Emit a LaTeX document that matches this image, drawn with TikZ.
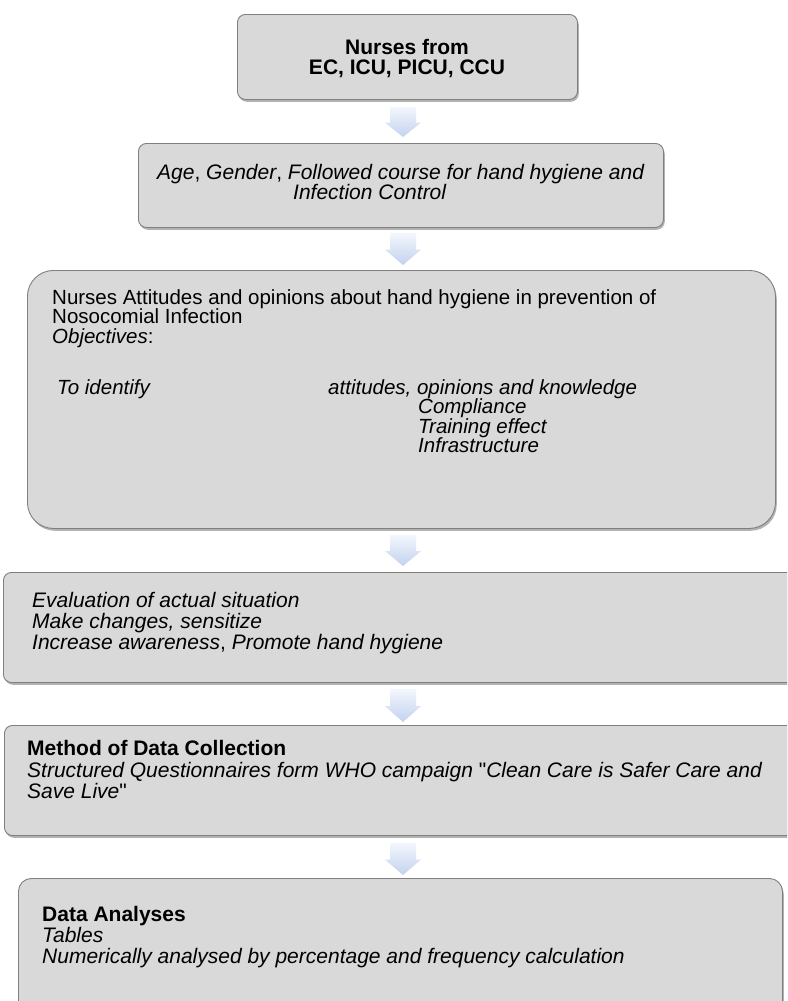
\documentclass[tikz,border=0pt]{standalone}
\usepackage{fontspec}
\setmainfont{Liberation Sans}
\usetikzlibrary{shadows,calc}
\definecolor{boxfill}{HTML}{D9D9D9}
\definecolor{boxline}{HTML}{7F7F7F}
\definecolor{arrtop}{HTML}{F4F7FD}
\definecolor{arrbot}{HTML}{C2D2EE}
\tikzset{
  flowbox/.style={draw=boxline, line width=0.9pt, fill=boxfill,
    rounded corners=#1, anchor=north west, inner sep=0pt,
    drop shadow={shadow xshift=1.3pt, shadow yshift=-2.3pt, opacity=0.4, fill=black!75}},
  flowbox/.default=8pt,
  txtl/.style={anchor=base west, inner sep=0pt, font=\fontsize{21}{21}\selectfont},
  txts/.style={anchor=base west, inner sep=0pt, font=\fontsize{20.5}{20}\selectfont},
  txtc/.style={anchor=base, inner sep=0pt, font=\fontsize{21}{21}\selectfont\bfseries},
}
\newcommand\flowarrow[2]{%
  \shade[top color=arrtop, bottom color=arrbot] let \p1=(#1), \p2=(#2), \n1={\y1-\y2} in
    (\x1-13pt,\y1) -- (\x1+13pt,\y1) -- (\x1+13pt,\y2+0.48*\n1) -- (\x1+18pt,\y2+0.48*\n1)
    -- (\x1,\y2) -- (\x1-18pt,\y2+0.48*\n1) -- (\x1-13pt,\y2+0.48*\n1) -- cycle;}
\begin{document}
\begin{tikzpicture}[x=1pt,y=-1pt]
\useasboundingbox (0,0) rectangle (787,1001);
\clip (0,0) rectangle (787,1001);
\fill[white] (0,0) rectangle (787,1001);
\coordinate (ax) at (403,0);
% boxes
\node[flowbox, minimum width=340pt, minimum height=85pt] (b1) at (237,14) {};
\node[flowbox, minimum width=525pt, minimum height=84pt] (b2) at (138,143) {};
\node[flowbox=26pt, minimum width=748pt, minimum height=258pt] (b3) at (27,270) {};
\node[flowbox, minimum width=820pt, minimum height=110pt] (b4) at (3,572) {};
\node[flowbox, minimum width=820pt, minimum height=110pt] (b5) at (4,725) {};
\node[flowbox=13pt, minimum width=764pt, minimum height=160pt] (b6) at (18,878) {};
% connectors
\flowarrow{$(b1.south -| ax)+(0,7)$}{$(b2.north -| ax)+(0,-6)$}
\flowarrow{$(b2.south -| ax)+(0,5)$}{$(b3.north -| ax)+(0,-5)$}
\flowarrow{$(b3.south -| ax)+(0,6)$}{$(b4.north -| ax)+(0,-6)$}
\flowarrow{$(b4.south -| ax)+(0,6)$}{$(b5.north -| ax)+(0,-3)$}
\flowarrow{$(b5.south -| ax)+(0,7)$}{$(b6.north -| ax)+(0,-3)$}
% box 1
\node[txtc] (t1a) at (407,54) {Nurses from};
\node[txtc] (t1b) at (407,74) {EC, ICU, PICU, CCU};
% box 2
\node[txtl] (t2a) at (157,179) {\textit{Age}, \textit{Gender}, \textit{Followed course for hand hygiene and}};
\node[txtl] (t2b) at (293,199) {\textit{Infection Control}};
% box 3
\node[txts] (t3a) at (52,304) {Nurses Attitudes and opinions about hand hygiene in prevention of};
\node[txts] (t3b) at (52,323.5) {Nosocomial Infection};
\node[txts] (t3c) at (52,343) {\textit{Objectives}:};
\node[txts] (t3d) at (57,394) {\textit{To identify}};
\node[txts] (t3e) at (328,394) {\textit{attitudes, opinions and knowledge}};
\node[txts] (t3f) at (418,413.5) {\textit{Compliance}};
\node[txts] (t3g) at (418,433) {\textit{Training effect}};
\node[txts] (t3h) at (418,452.5) {\textit{Infrastructure}};
% box 4
\node[txtl] (t4a) at (32,607) {\textit{Evaluation of actual situation}};
\node[txtl] (t4b) at (32,628) {\textit{Make changes, sensitize}};
\node[txtl] (t4c) at (32,649) {\textit{Increase awareness}, \textit{Promote hand hygiene}};
% box 5
\node[txtl] (t5a) at (27,755) {\textbf{Method of Data Collection}};
\node[txtl] (t5b) at (27,777) {\textit{Structured Questionnaires form WHO campaign }\textquotedbl\textit{Clean Care is Safer Care and}};
\node[txtl] (t5c) at (27,798) {\textit{Save Live}\textquotedbl};
% box 6
\node[txtl] (t6a) at (42,921) {\textbf{Data Analyses}};
\node[txtl] (t6b) at (42,942) {\textit{Tables}};
\node[txtl] (t6c) at (42,963) {\textit{Numerically analysed by percentage and frequency calculation}};
\end{tikzpicture}
\end{document}
